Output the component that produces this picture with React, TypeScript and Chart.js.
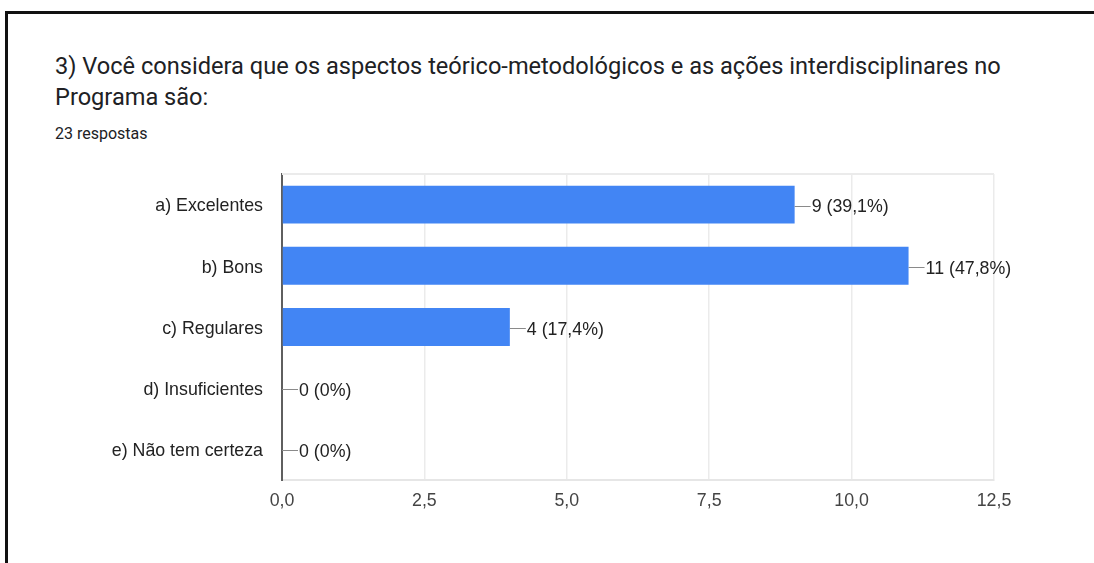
import React, { useEffect, useRef } from "react";
import { Chart, registerables } from "chart.js";

Chart.register(...registerables);

const categories = [
  "a) Excelentes",
  "b) Bons",
  "c) Regulares",
  "d) Insuficientes",
  "e) Não tem certeza",
];
const counts = [9, 11, 4, 0, 0];
const percents = ["39,1%", "47,8%", "17,4%", "0%", "0%"];
const xTicks = [0, 2.5, 5, 7.5, 10, 12.5];

const titleLine1 =
  "3) Você considera que os aspectos teórico-metodológicos e as ações interdisciplinares no";
const titleLine2 = "Programa são:";
const subtitle = "23 respostas";

const CHART_FONT = "'Liberation Sans', Arial, sans-serif";
const FONT_SIZE = 17.8;

const valueLabelPlugin = {
  id: "valueLabels",
  afterDatasetsDraw(chart: any) {
    const ctx = chart.ctx;
    const meta = chart.getDatasetMeta(0);
    ctx.save();
    meta.data.forEach((bar: any, i: number) => {
      const x = bar.x;
      const y = bar.y;
      ctx.strokeStyle = "#8a8a8a";
      ctx.lineWidth = 1;
      ctx.beginPath();
      ctx.moveTo(x, Math.round(y) + 1.5);
      ctx.lineTo(x + 16, Math.round(y) + 1.5);
      ctx.stroke();
      ctx.fillStyle = "#222222";
      ctx.font = `${FONT_SIZE}px ${CHART_FONT}`;
      ctx.textAlign = "left";
      ctx.textBaseline = "middle";
      ctx.fillText(`${counts[i]} (${percents[i]})`, x + 17, y + 3);
    });
    ctx.restore();
  },
  beforeDatasetsDraw(chart: any) {
    const { ctx, chartArea } = chart;
    ctx.save();
    ctx.strokeStyle = "#ebebeb";
    ctx.lineWidth = 2;
    ctx.beginPath();
    ctx.moveTo(chartArea.left, chartArea.top);
    ctx.lineTo(chartArea.right, chartArea.top);
    ctx.stroke();
    ctx.restore();
  },
};

function BarChart() {
  const ref = useRef<HTMLCanvasElement | null>(null);
  useEffect(() => {
    if (!ref.current) return;
    const chart = new Chart(ref.current, {
      type: "bar",
      data: {
        labels: categories,
        datasets: [
          {
            data: counts,
            backgroundColor: "#4285f4",
            borderWidth: 0,
            barPercentage: 1,
            categoryPercentage: 0.62,
          },
        ],
      },
      options: {
        indexAxis: "y",
        animation: false,
        responsive: false,
        devicePixelRatio: 1,
        layout: { padding: { left: 0, right: 100, top: 24, bottom: 0 } },
        plugins: {
          legend: { display: false },
          tooltip: { enabled: false },
        },
        scales: {
          x: {
            min: 0,
            max: 12.5,
            afterBuildTicks: (scale: any) => {
              scale.ticks = xTicks.map((v) => ({ value: v }));
            },
            afterFit: (scale: any) => {
              scale.height = 83;
            },
            grid: {
              color: "#ebebeb",
              lineWidth: 1.5,
              drawTicks: false,
            },
            border: { display: true, color: "#e6e6e6", width: 2 },
            ticks: {
              padding: 10,
              color: "#444444",
              font: { family: CHART_FONT, size: FONT_SIZE },
              callback: (v: any) => Number(v).toFixed(1).replace(".", ","),
            },
          },
          y: {
            afterFit: (scale: any) => {
              scale.width = 282;
              scale.paddingTop = 0;
              scale.paddingBottom = 0;
            },
            grid: { display: false, drawTicks: false },
            border: { display: true, color: "#5f5f5f", width: 2 },
            ticks: {
              padding: 19,
              labelOffset: 2,
              color: "#222222",
              font: { family: CHART_FONT, size: FONT_SIZE },
            },
          },
        },
      },
      plugins: [valueLabelPlugin],
    } as any);
    return () => chart.destroy();
  }, []);
  return (
    <canvas
      ref={ref}
      width={1094}
      height={413}
      style={{ position: "absolute", left: 0, top: 150, width: 1094, height: 413 }}
    />
  );
}

export default function App() {
  return (
    <div
      style={{
        position: "fixed",
        left: 0,
        top: 0,
        width: 1094,
        height: 563,
        background: "#ffffff",
        overflow: "hidden",
      }}
    >
      <div
        style={{
          position: "absolute",
          left: 5,
          top: 11,
          width: 1100,
          height: 600,
          borderTop: "3px solid #111111",
          borderLeft: "3px solid #111111",
          boxSizing: "border-box",
        }}
      />
      <div
        style={{
          position: "absolute",
          left: 55,
          top: 51,
          fontFamily: "Roboto, sans-serif",
          fontSize: 23.6,
          lineHeight: "31px",
          color: "#202124",
          whiteSpace: "nowrap",
        }}
      >
        <div>{titleLine1}</div>
        <div>{titleLine2}</div>
      </div>
      <div
        style={{
          position: "absolute",
          left: 55,
          top: 126,
          fontFamily: "Roboto, sans-serif",
          fontSize: 16,
          lineHeight: "16px",
          color: "#202124",
          whiteSpace: "nowrap",
        }}
      >
        {subtitle}
      </div>
      <BarChart />
    </div>
  );
}
